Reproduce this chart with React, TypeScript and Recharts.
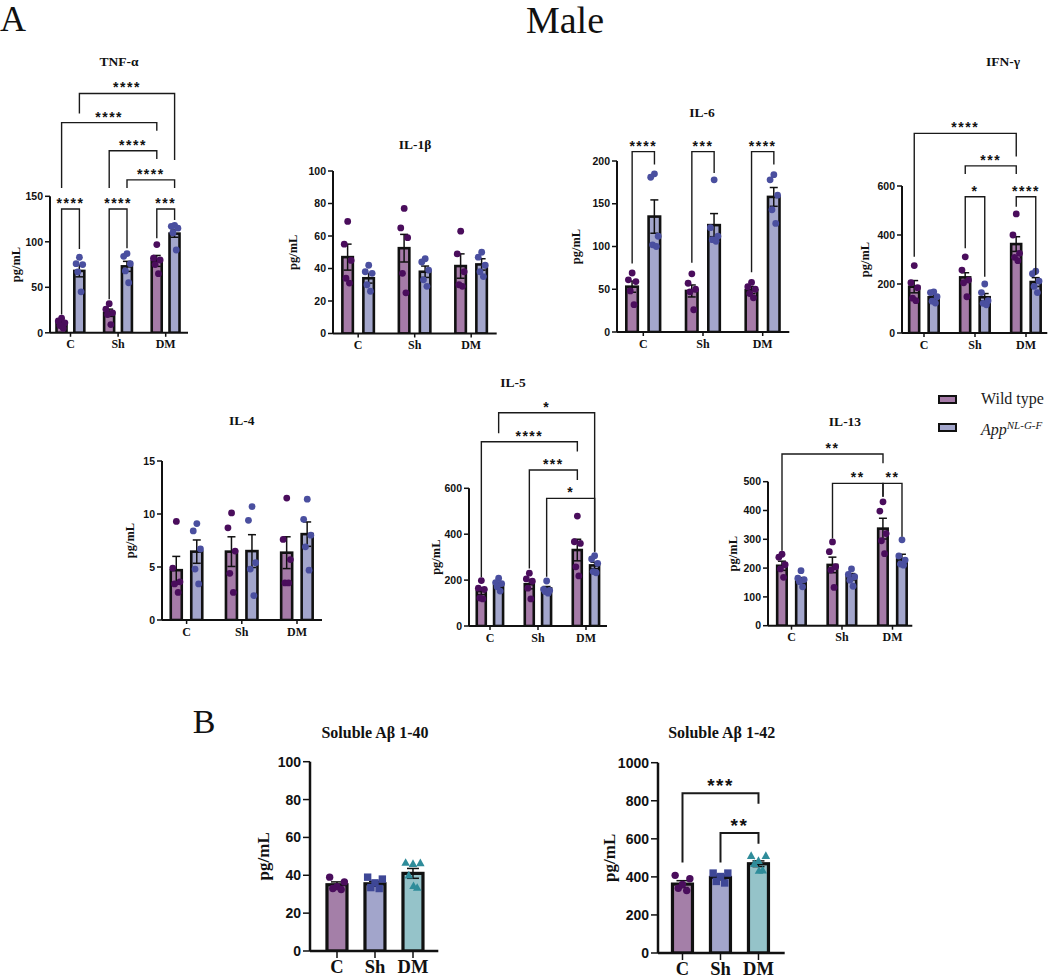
import React from 'react';
import {
  ComposedChart, Bar, Cell, ErrorBar, Scatter, XAxis, YAxis,
  ReferenceLine, ReferenceDot, Legend,
} from 'recharts';

const SERIF = '"Liberation Serif", "Times New Roman", serif';
const SANS = '"Liberation Sans", Arial, sans-serif';

// ---------- labels ----------
const groups = ['C', 'Sh', 'DM'];
const yUnit = 'pg/mL';
const legendLabels = ['Wild type', 'App', 'NL-G-F'];
const headings = ['A', 'Male', 'B'];

// ---------- colours ----------
const WT_FILL = '#a67ba8';
const APP_FILL = '#a3a6cc';
const WT_DOT = '#4a0d5c';
const APP_DOT = '#4a4f9f';
const AB_FILLS = ['#a47fa8', '#a2a5cb', '#95c3c9'];
const AB_DOTS = ['#4a0d5c', '#3e4796', '#2f8c9a'];
const AB_SHAPES = ['circle', 'square', 'triangle'];

type Br = [number, number, number, number, number, string];

// ---------- TNF-α ----------
const tnfTicks = [0, 50, 100, 150];
const tnfWtMean = [11, 22, 79];
const tnfWtSem = [2, 4, 6];
const tnfAppMean = [68, 73, 109];
const tnfAppSem = [6.5, 5.5, 4];
const tnfWtPts = [[16, 13, 11, 8, 5], [32, 26, 22, 20, 9], [97, 82, 80, 75, 65]];
const tnfAppPts = [[83, 76, 75, 67, 45], [87, 84, 76, 68, 55], [118, 117, 115, 110, 91]];
const tnfBrackets: Br[] = [
  [1, 5, 263, 241, 190, '****'],
  [0, 4, 231, 159, 222, '****'],
  [2, 4, 200, 159, 191, '****'],
  [3, 5, 168, 159, 159, '****'],
  [0, 1, 136, 20, 92, '****'],
  [2, 3, 136, 37, 93, '****'],
  [4, 5, 136, 104, 124, '***'],
];

// ---------- IL-1β ----------
const il1Ticks = [0, 20, 40, 60, 80, 100];
const il1WtMean = [47, 52.5, 41.5];
const il1WtSem = [8, 8.5, 7.5];
const il1AppMean = [34, 38, 42.5];
const il1AppSem = [3, 3.5, 3.5];
const il1WtPts = [[69, 55, 45, 34, 31], [77, 65, 59, 37, 25], [63, 49, 38, 30, 29]];
const il1AppPts = [[42, 38, 37, 30, 26], [46, 44, 39, 33, 29], [50, 47, 42, 38, 35]];

// ---------- IL-6 ----------
const il6Ticks = [0, 50, 100, 150, 200];
const il6WtMean = [53, 48, 49];
const il6WtSem = [6.5, 7, 4];
const il6AppMean = [135, 125, 158];
const il6AppSem = [19.5, 13.5, 11];
const il6WtPts = [[69, 61, 59, 48, 32], [68, 57, 50, 47, 26], [58, 53, 50, 45, 40]];
const il6AppPts = [[185, 181, 112, 102, 100], [178, 122, 112, 108, 106], [184, 178, 160, 143, 127]];
const il6Brackets: Br[] = [
  [0, 1, 211, 80, 196, '****'],
  [2, 3, 211, 81, 186, '***'],
  [4, 5, 211, 70, 196, '****'],
];

// ---------- IFN-γ ----------
const ifnTicks = [0, 200, 400, 600];
const ifnWtMean = [189, 227, 363];
const ifnWtSem = [25, 19, 30];
const ifnAppMean = [146, 146, 208];
const ifnAppSem = [10, 15, 18];
const ifnWtPts = [[275, 205, 185, 142, 132], [311, 257, 216, 205, 148], [486, 400, 325, 309, 295]];
const ifnAppPts = [[168, 165, 148, 130, 122], [200, 165, 132, 121, 115], [252, 242, 212, 190, 165]];
const ifnBrackets: Br[] = [
  [0, 4, 815, 311, 720, '****'],
  [2, 4, 682, 649, 649, '***'],
  [2, 3, 556, 346, 230, '*'],
  [4, 5, 556, 515, 237, '****'],
];

// ---------- IL-4 ----------
const il4Ticks = [0, 5, 10, 15];
const il4WtMean = [4.7, 6.45, 6.35];
const il4WtSem = [1.3, 1.4, 1.5];
const il4AppMean = [6.45, 6.5, 8.1];
const il4AppSem = [1.1, 1.55, 1.15];
const il4WtPts = [[9.3, 4.9, 3.6, 3.4, 2.6], [10.1, 8.7, 6.5, 4.4, 2.6], [11.5, 7.6, 5.7, 3.5, 3.5]];
const il4AppPts = [[9.1, 8.4, 6.7, 4.8, 3.4], [10.7, 9.4, 5.4, 4.8, 2.3], [11.4, 9.5, 8.0, 6.9, 4.7]];

// ---------- IL-5 ----------
const il5Ticks = [0, 200, 400, 600];
const il5WtMean = [152, 182, 331];
const il5WtSem = [15, 20, 47];
const il5AppMean = [179, 164, 264];
const il5AppSem = [10, 8, 14];
const il5WtPts = [[198, 165, 160, 122, 118], [230, 205, 195, 165, 118], [479, 367, 360, 258, 218]];
const il5AppPts = [[208, 189, 185, 171, 152], [196, 160, 155, 150, 143], [306, 292, 273, 237, 232]];
const il5Brackets: Br[] = [
  [1, 5, 929, 840, 324, '*'],
  [0, 4, 803, 212, 760, '****'],
  [2, 4, 680, 251, 636, '***'],
  [3, 5, 556, 215, 324, '*'],
];

// ---------- IL-13 ----------
const il13Ticks = [0, 100, 200, 300, 400, 500];
const il13WtMean = [208, 211, 337];
const il13WtSem = [16, 27, 36];
const il13AppMean = [157, 170, 230];
const il13AppSem = [10, 11, 18];
const il13WtPts = [[248, 238, 212, 197, 168], [291, 257, 205, 193, 133], [430, 398, 320, 295, 250]];
const il13AppPts = [[191, 165, 160, 153, 135], [197, 178, 170, 158, 137], [298, 242, 228, 214, 210]];
const il13Brackets: Br[] = [
  [0, 4, 596, 260, 564, '**'],
  [2, 4, 494, 303, 448, '**'],
  [4, 5, 494, 448, 309, '**'],
];

// ---------- Soluble Aβ 1-40 ----------
const ab40Ticks = [0, 20, 40, 60, 80, 100];
const ab40Mean = [35, 35.5, 41];
const ab40Sem = [1.5, 1.3, 2.6];
const ab40Pts = [[39, 36.5, 34, 33, 32.5], [39, 38, 36, 33.5, 33], [46.8, 46.6, 46.2, 40.1, 33.6, 34.5]];

// ---------- Soluble Aβ 1-42 ----------
const ab42Ticks = [0, 200, 400, 600, 800, 1000];
const ab42Mean = [362, 397, 469];
const ab42Sem = [18, 12, 15];
const ab42Pts = [[408, 390, 360, 340, 328], [420, 420, 402, 376, 368], [512, 512, 486, 470, 436, 434]];
const ab42Brackets: Br[] = [
  [0, 2, 840, 476, 784, '***'],
  [1, 2, 630, 476, 574, '**'],
];

// ---------- builders ----------
type BarSpec = { g: number; slot: number; mean: number; sem: number; pts: number[]; fill: string; dot: string; shape: string };

function genoBars(wm: number[], ws: number[], wp: number[][], am: number[], as_: number[], ap: number[][]): BarSpec[] {
  const out: BarSpec[] = [];
  groups.forEach((_, g) => {
    out.push({ g, slot: -1, mean: wm[g], sem: ws[g], pts: wp[g], fill: WT_FILL, dot: WT_DOT, shape: 'circle' });
    out.push({ g, slot: 1, mean: am[g], sem: as_[g], pts: ap[g], fill: APP_FILL, dot: APP_DOT, shape: 'circle' });
  });
  return out;
}
function abBars(m: number[], s: number[], p: number[][]): BarSpec[] {
  return groups.map((_, g) => ({ g, slot: 0, mean: m[g], sem: s[g], pts: p[g], fill: AB_FILLS[g], dot: AB_DOTS[g], shape: AB_SHAPES[g] }));
}

const TOP = { tickFont: 10.5, catFont: 12, labelFont: 12.5, titleFont: 13.5, starFont: 14, dotR: 3.4, capW: 4, barStroke: 2.6, xTick: 4, yTick: 5, catMargin: 3, axisW: 2, brW: 1.4, XH: 34, MB: 4, jit: [0, -0.6, 0.6, -0.3, 0.3, 0] };
const BOT = { tickFont: 14, catFont: 18.5, labelFont: 17, titleFont: 16, starFont: 19, dotR: 3.7, capW: 6, barStroke: 3.2, xTick: 7, yTick: 7, catMargin: 2, axisW: 2.5, brW: 2, XH: 26.5, MB: 0, jit: [-0.7, 0.7, 0, -0.4, 0.4, 0.05] };

const panels = [
  { title: 'TNF-α', ticks: tnfTicks, bars: genoBars(tnfWtMean, tnfWtSem, tnfWtPts, tnfAppMean, tnfAppSem, tnfAppPts), brackets: tnfBrackets, sty: TOP,
    lay: { axL: 50, axR: 188, y0: 332.8, topTickY: 196.3, plotTop: 74, c0: 70.5, spacing: 47.6, pitch: 17.8, barSize: 10, tx: 119, ty: 62, labelX: 16 } },
  { title: 'IL-1β', ticks: il1Ticks, bars: genoBars(il1WtMean, il1WtSem, il1WtPts, il1AppMean, il1AppSem, il1AppPts), brackets: [], sty: TOP,
    lay: { axL: 333.3, axR: 497, y0: 333.5, topTickY: 171, plotTop: 160, c0: 358.5, spacing: 56.5, pitch: 21, barSize: 10.5, tx: 415, ty: 145, labelX: 293.5 } },
  { title: 'IL-6', ticks: il6Ticks, bars: genoBars(il6WtMean, il6WtSem, il6WtPts, il6AppMean, il6AppSem, il6AppPts), brackets: il6Brackets, sty: TOP,
    lay: { axL: 616.7, axR: 789, y0: 332, topTickY: 161, plotTop: 128, c0: 643, spacing: 59.7, pitch: 22.3, barSize: 11.5, tx: 702, ty: 113, labelX: 576 } },
  { title: 'IFN-γ', ticks: ifnTicks, bars: genoBars(ifnWtMean, ifnWtSem, ifnWtPts, ifnAppMean, ifnAppSem, ifnAppPts), brackets: ifnBrackets, sty: TOP,
    lay: { axL: 901.7, axR: 1047, y0: 333, topTickY: 186, plotTop: 110, c0: 923.7, spacing: 51, pitch: 19.5, barSize: 10, tx: 1003, ty: 62, labelX: 865 } },
  { title: 'IL-4', ticks: il4Ticks, bars: genoBars(il4WtMean, il4WtSem, il4WtPts, il4AppMean, il4AppSem, il4AppPts), brackets: [], sty: TOP,
    lay: { axL: 161.7, axR: 321.7, y0: 620, topTickY: 461, plotTop: 450, c0: 186.3, spacing: 55.2, pitch: 20.5, barSize: 11, tx: 241.7, ty: 420.7, labelX: 130 } },
  { title: 'IL-5', ticks: il5Ticks, bars: genoBars(il5WtMean, il5WtSem, il5WtPts, il5AppMean, il5AppSem, il5AppPts), brackets: il5Brackets, sty: TOP,
    lay: { axL: 469, axR: 607, y0: 626, topTickY: 488.3, plotTop: 390, c0: 490, spacing: 48, pitch: 17.3, barSize: 9, tx: 513, ty: 383, labelX: 436 } },
  { title: 'IL-13', ticks: il13Ticks, bars: genoBars(il13WtMean, il13WtSem, il13WtPts, il13AppMean, il13AppSem, il13AppPts), brackets: il13Brackets, sty: TOP, legend: true,
    lay: { axL: 767.7, axR: 912, y0: 625.7, topTickY: 481.7, plotTop: 430, c0: 791.2, spacing: 50.5, pitch: 19, barSize: 9.5, tx: 845, ty: 421.7, labelX: 733 } },
  { title: 'Soluble Aβ 1-40', ticks: ab40Ticks, bars: abBars(ab40Mean, ab40Sem, ab40Pts), brackets: [], sty: BOT,
    lay: { axL: 310, axR: 438.3, y0: 951, topTickY: 761.7, plotTop: 750, c0: 337, spacing: 38, pitch: 0, barSize: 20, tx: 375, ty: 733, labelX: 264 } },
  { title: 'Soluble Aβ 1-42', ticks: ab42Ticks, bars: abBars(ab42Mean, ab42Sem, ab42Pts), brackets: ab42Brackets, sty: BOT,
    lay: { axL: 658.3, axR: 785, y0: 953, topTickY: 762.7, plotTop: 750, c0: 682.8, spacing: 38, pitch: 0, barSize: 20, tx: 721.7, ty: 733, labelX: 610 } },
];

function dotShape(color: string, kind: string, r: number) {
  return (p: any) => {
    const { cx, cy } = p;
    if (cx == null || cy == null) return <g />;
    if (kind === 'square') return <rect x={cx - r} y={cy - r} width={2 * r} height={2 * r} fill={color} />;
    if (kind === 'triangle') {
      const s = r * 1.15;
      return <polygon points={`${cx},${cy - s} ${cx - s},${cy + s * 0.8} ${cx + s},${cy + s * 0.8}`} fill={color} />;
    }
    return <circle cx={cx} cy={cy} r={r} fill={color} />;
  };
}

function barShape(bw: number, sw: number) {
  return (props: any) => {
    const { x, y, width, height, payload } = props;
    if (x == null || y == null || isNaN(x) || isNaN(y)) return <g />;
    const cx = x + (width || 0) / 2;
    const top = height >= 0 ? y : y + height;
    const hh = Math.abs(height || 0);
    return <rect x={cx - bw / 2} y={top} width={bw} height={hh} fill={(payload && payload.fill) || props.fill} stroke="#111" strokeWidth={sw} />;
  };
}

const noShape = () => <g />;

function LegendBox() {
  const sw = (fill: string) => (
    <span style={{ display: 'inline-block', width: 15, height: 5, border: '2px solid #111', background: fill, marginRight: 24 }} />
  );
  return (
    <div style={{ fontFamily: SERIF, fontSize: 16, color: '#1a1a1a', lineHeight: '28px', whiteSpace: 'nowrap' }}>
      <div style={{ display: 'flex', alignItems: 'center', height: 28 }}>{sw(WT_FILL)}<span>{legendLabels[0]}</span></div>
      <div style={{ display: 'flex', alignItems: 'center', height: 28 }}>{sw(APP_FILL)}
        <span><i>{legendLabels[1]}</i><sup style={{ fontSize: 11, verticalAlign: '6px' }}><i>{legendLabels[2]}</i></sup></span>
      </div>
    </div>
  );
}

function Panel({ p }: { p: any }) {
  const { lay, sty, ticks, bars, brackets, title } = p;
  const topTick = ticks[ticks.length - 1];
  const ppu = (lay.y0 - lay.topTickY) / topTick;
  const ymax = (lay.y0 - lay.plotTop) / ppu;
  const xmin = -(lay.c0 - lay.axL) / lay.spacing;
  const xmax = (lay.axR - lay.c0) / lay.spacing;
  const h = lay.pitch / 2 / lay.spacing;
  const bx = (b: BarSpec) => b.g + b.slot * h;
  const rows = bars.map((b: BarSpec) => ({ x: bx(b), mean: b.mean, sem: b.sem, fill: b.fill }));
  const halfU = (lay.barSize / 2 + 0.5) / lay.spacing;
  const YW = 60, MT = 5, MR = 12;
  const XH = sty.XH, MB = sty.MB;
  const width = YW + (lay.axR - lay.axL) + MR;
  const height = MT + (lay.y0 - lay.plotTop) + XH + MB;
  const left = lay.axL - YW;
  const top = lay.plotTop - MT;
  const labelOff = lay.axL - lay.labelX;

  const yLabel = (lp: any) => {
    const vb = lp.viewBox || {};
    const cx = (vb.x ?? 0) - labelOff;
    const cy = (vb.y ?? 0) + (vb.height ?? 0) / 2;
    return (
      <text x={cx} y={cy} transform={`rotate(-90, ${cx}, ${cy})`} textAnchor="middle" dominantBaseline="central"
        fontFamily={SERIF} fontWeight={700} fontSize={sty.labelFont} fill="#111">{yUnit}</text>
    );
  };

  return (
    <>
      <div style={{ position: 'absolute', left: lay.tx, top: lay.ty, transform: 'translate(-50%, -50%)', fontFamily: SERIF, fontWeight: 700, fontSize: sty.titleFont, color: '#111', whiteSpace: 'nowrap', lineHeight: 1 }}>{title}</div>
      <div style={{ position: 'absolute', left, top }}>
        <ComposedChart width={width} height={height} data={rows} margin={{ top: MT, right: MR, bottom: MB, left: 0 }}>
          <XAxis type="number" dataKey="x" domain={[xmin, xmax]} allowDataOverflow ticks={[0, 1, 2]} interval={0}
            tickFormatter={(v: number) => groups[Math.round(v)]} height={XH}
            axisLine={{ stroke: '#111', strokeWidth: sty.axisW }} tickLine={{ stroke: '#111', strokeWidth: 1.5 }}
            tickSize={sty.xTick} tickMargin={sty.catMargin}
            tick={{ fill: '#111', fontFamily: SERIF, fontWeight: 700, fontSize: sty.catFont }} />
          <YAxis type="number" dataKey="y" domain={[0, ymax]} allowDataOverflow ticks={ticks} interval={0} width={YW}
            axisLine={false} tickLine={{ stroke: '#111', strokeWidth: 1.5 }} tickSize={sty.yTick} tickMargin={2}
            tick={{ fill: '#111', fontFamily: SANS, fontWeight: 700, fontSize: sty.tickFont }} />
          <Bar dataKey="mean" barSize={lay.barSize} shape={barShape(lay.barSize, sty.barStroke)} isAnimationActive={false} legendType="none">
            {rows.map((r: any, i: number) => <Cell key={i} fill={r.fill} />)}
            <ErrorBar dataKey="sem" direction="y" width={sty.capW} stroke="#111" strokeWidth={1.5} />
          </Bar>
          {bars.map((b: BarSpec, i: number) => (
            <Scatter key={'pts' + i} data={b.pts.map((v, j) => ({ x: bx(b) + sty.jit[j % 6] * halfU, y: v }))}
              shape={dotShape(b.dot, b.shape, sty.dotR)} isAnimationActive={false} legendType="none" />
          ))}
          {brackets.map((br: Br, i: number) => {
            const xa = bx(bars[br[0]]), xb = bx(bars[br[1]]);
            return (
              <Scatter key={'br' + i} data={[{ x: xa, y: br[3] }, { x: xa, y: br[2] }, { x: xb, y: br[2] }, { x: xb, y: br[4] }]}
                line={{ stroke: '#1a1a1a', strokeWidth: sty.brW, fill: 'none' }} lineType="joint" shape={noShape}
                isAnimationActive={false} legendType="none" />
            );
          })}
          {brackets.map((br: Br, i: number) => {
            const xa = bx(bars[br[0]]), xb = bx(bars[br[1]]);
            return (
              <ReferenceDot key={'st' + i} x={(xa + xb) / 2} y={br[2]} r={0} fill="none" stroke="none" ifOverflow="visible"
                label={{ value: br[5], position: 'top', offset: 1, fill: '#111', fontSize: sty.starFont, fontFamily: SANS, fontWeight: 700, letterSpacing: 1.5 }} />
            );
          })}
          <ReferenceLine segment={[{ x: xmin, y: 0 }, { x: xmin, y: topTick }]} stroke="#111" strokeWidth={sty.axisW} ifOverflow="visible" label={yLabel} />
          {p.legend ? (
            <Legend layout="horizontal" verticalAlign="middle" align="center" content={() => <LegendBox />}
              wrapperStyle={{ position: 'absolute', left: 938 - left, top: 385 - top, width: 120, height: 56 }} />
          ) : null}
        </ComposedChart>
      </div>
    </>
  );
}

function Heading({ text, x, y, size }: { text: string; x: number; y: number; size: number }) {
  return (
    <div style={{ position: 'absolute', left: x, top: y, transform: 'translate(-50%, -50%)', fontFamily: SERIF, fontSize: size, color: '#111', lineHeight: 1, whiteSpace: 'nowrap' }}>{text}</div>
  );
}

export default function App() {
  return (
    <div style={{ position: 'absolute', left: 0, top: 0, width: 1050, height: 980, overflow: 'hidden', background: '#fff' }}>
      <Heading text={headings[0]} x={13} y={19} size={36} />
      <Heading text={headings[1]} x={565} y={20} size={38} />
      <Heading text={headings[2]} x={204} y={722} size={34} />
      {panels.map((p, i) => <Panel key={i} p={p} />)}
    </div>
  );
}
